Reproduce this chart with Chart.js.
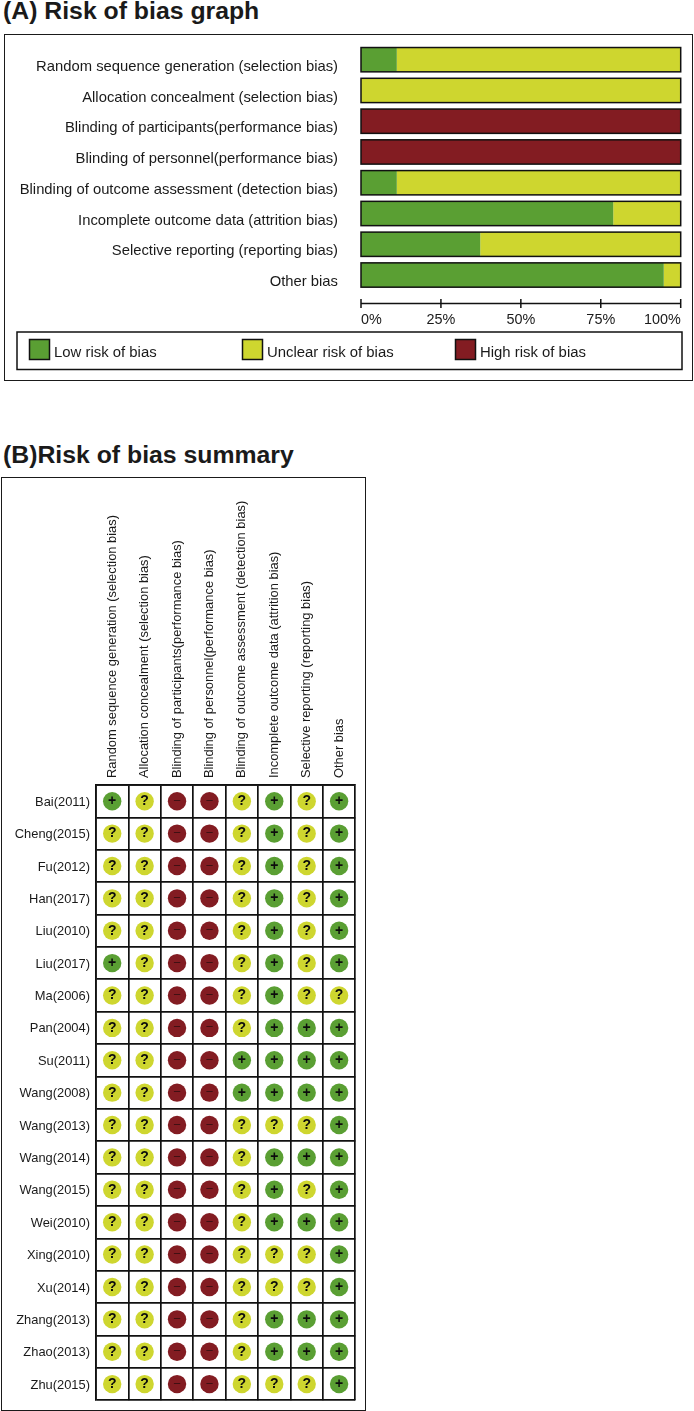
<!DOCTYPE html>
<html lang="en">
<head>
  <meta charset="UTF-8">
  <title>Risk of bias</title>
  <script src="https://cdn.jsdelivr.net/npm/chart.js"></script>
  <style>
    body { margin: 0; background: white; width: 694px; height: 1411px; position: relative; overflow: hidden; font-family: "Liberation Sans", Arial, sans-serif; }
    canvas { position: absolute; left: 0; }
    .title { position: absolute; left: 3px; font-weight: bold; font-size: 24.8px; line-height: 28px; color: #1a1a1a; white-space: nowrap; }
    .frame { position: absolute; border: 1.5px solid #1a1a1a; box-sizing: border-box; }
  </style>
</head>
<body>
<div class="title" style="top:-3px">(A) Risk of bias graph</div>
<div class="frame" style="left:4px;top:34px;width:689px;height:347px"></div>
<canvas id="graph" width="694" height="395" style="top:0"></canvas>

<div class="title" style="top:441px">(B)Risk of bias summary</div>
<div class="frame" style="left:1px;top:477px;width:365px;height:934px"></div>
<canvas id="summary" width="370" height="934" style="top:477px"></canvas>

<script>
const domains = [
  'Random sequence generation (selection bias)',
  'Allocation concealment (selection bias)',
  'Blinding of participants(performance bias)',
  'Blinding of personnel(performance bias)',
  'Blinding of outcome assessment (detection bias)',
  'Incomplete outcome data (attrition bias)',
  'Selective reporting (reporting bias)',
  'Other bias'
];
const lowRisk     = [11.2, 0, 0, 0, 11.2, 78.9, 37.3, 94.7];
const unclearRisk = [88.8, 100, 0, 0, 88.8, 21.1, 62.7, 5.3];
const highRisk    = [0, 0, 100, 100, 0, 0, 0, 0];

const percentTicks = [0, 25, 50, 75, 100];
const riskNames = ['Low risk of bias', 'Unclear risk of bias', 'High risk of bias'];

const studies = [
  'Bai(2011)', 'Cheng(2015)', 'Fu(2012)', 'Han(2017)', 'Liu(2010)', 'Liu(2017)', 'Ma(2006)',
  'Pan(2004)', 'Su(2011)', 'Wang(2008)', 'Wang(2013)', 'Wang(2014)', 'Wang(2015)', 'Wei(2010)',
  'Xing(2010)', 'Xu(2014)', 'Zhang(2013)', 'Zhao(2013)', 'Zhu(2015)'
];
// one string per study, one character per domain
const judgements = [
  '+?--?+?+', '??--?+?+', '??--?+?+', '??--?+?+', '??--?+?+', '+?--?+?+', '??--?+??',
  '??--?+++', '??--++++', '??--++++', '??--???+', '??--?+++', '??--?+?+', '??--?+++',
  '??--???+', '??--???+', '??--?+++', '??--?+++', '??--???+'
];

const GREEN = '#5a9f33';
const YELLOW = '#ced62f';
const RED = '#831c22';
const INK = '#1a1a1a';
const FONT = '"Liberation Sans", Arial, sans-serif';

Chart.defaults.font.family = FONT;
Chart.defaults.color = INK;

// black outline round each stacked bar, detached axis line, boxed legend
const graphExtras = {
  id: 'graphExtras',
  afterDatasetsDraw(chart) {
    const ctx = chart.ctx, x = chart.scales.x, area = chart.chartArea;
    const x0 = x.getPixelForValue(0), x1 = x.getPixelForValue(100);
    ctx.save();
    ctx.strokeStyle = '#111';
    ctx.lineWidth = 1.5;
    chart.getDatasetMeta(0).data.forEach(bar => {
      ctx.strokeRect(x0, bar.y - bar.height / 2, x1 - x0, bar.height);
    });

    const axisY = area.bottom + 13;
    ctx.beginPath();
    ctx.moveTo(x0, axisY);
    ctx.lineTo(x1, axisY);
    percentTicks.forEach(t => {
      const px = x.getPixelForValue(t);
      ctx.moveTo(px, axisY - 4.5);
      ctx.lineTo(px, axisY + 4.5);
    });
    ctx.stroke();

    ctx.strokeRect(17, 332, 665, 37.5);
    ctx.font = '14.9px ' + FONT;
    ctx.textBaseline = 'middle';
    chart.data.datasets.forEach((ds, i) => {
      const left = 29.5 + i * 213;
      ctx.fillStyle = ds.backgroundColor;
      ctx.fillRect(left, 339.5, 20, 20);
      ctx.strokeRect(left, 339.5, 20, 20);
      ctx.fillStyle = INK;
      ctx.fillText(ds.label, left + 24.5, 353);
    });
    ctx.restore();
  }
};

new Chart(document.getElementById('graph'), {
  type: 'bar',
  data: {
    labels: domains,
    datasets: [
      { label: riskNames[0], data: lowRisk, backgroundColor: GREEN },
      { label: riskNames[1], data: unclearRisk, backgroundColor: YELLOW },
      { label: riskNames[2], data: highRisk, backgroundColor: RED }
    ]
  },
  options: {
    indexAxis: 'y',
    responsive: false,
    animation: false,
    datasets: { bar: { categoryPercentage: 1, barPercentage: 0.79, borderWidth: 0 } },
    layout: { padding: { top: 44.3, right: 13.3, left: 0, bottom: 0 } },
    plugins: { legend: { display: false }, tooltip: { enabled: false } },
    scales: {
      x: {
        stacked: true, min: 0, max: 100,
        afterFit: s => { s.height = 104.6; s.paddingLeft = 0; s.paddingRight = 0; },
        afterBuildTicks: s => { s.ticks = percentTicks.map(v => ({ value: v })); },
        grid: { display: false, drawTicks: false },
        border: { display: false },
        ticks: { padding: 21, align: 'inner', maxRotation: 0, autoSkip: false, font: { size: 14.4 }, callback: v => v + '%' }
      },
      y: {
        stacked: true,
        afterFit: s => { s.width = 361; s.paddingTop = 0; s.paddingBottom = 0; },
        grid: { display: false, drawTicks: false },
        border: { display: false },
        ticks: { padding: 23, labelOffset: 7, autoSkip: false, font: { size: 14.8 } }
      }
    }
  },
  plugins: [graphExtras]
});

// summary matrix: one scatter dataset per judgement
const styles = {
  '+': { fill: GREEN, mark: '+', font: 'bold 14px ', color: '#0c0c0c' },
  '?': { fill: YELLOW, mark: '?', font: 'bold 14px ', color: '#0c0c0c' },
  '-': { fill: RED, mark: '\u2212', font: '13px ', color: '#3a1012' }
};
function pointsFor(key) {
  const out = [];
  studies.forEach((s, r) => {
    domains.forEach((d, c) => {
      if (judgements[r][c] === key) out.push({ x: d, y: s });
    });
  });
  return out;
}

const marks = {
  id: 'marks',
  afterDatasetsDraw(chart) {
    const ctx = chart.ctx;
    ctx.save();
    ctx.textAlign = 'center';
    ctx.textBaseline = 'middle';
    chart.data.datasets.forEach((ds, i) => {
      const st = styles[ds.label];
      ctx.font = st.font + FONT;
      ctx.fillStyle = st.color;
      chart.getDatasetMeta(i).data.forEach(pt => ctx.fillText(st.mark, pt.x, pt.y));
    });
    ctx.restore();
  }
};

new Chart(document.getElementById('summary'), {
  type: 'scatter',
  data: {
    datasets: Object.keys(styles).map(key => ({
      label: key,
      data: pointsFor(key),
      backgroundColor: styles[key].fill,
      borderWidth: 0,
      pointRadius: 9.2
    }))
  },
  options: {
    responsive: false,
    animation: false,
    layout: { padding: { right: 14.7, bottom: 10.7, left: 0, top: 0 } },
    plugins: { legend: { display: false }, tooltip: { enabled: false } },
    scales: {
      x: {
        type: 'category', position: 'top', labels: domains, offset: true,
        afterFit: s => { s.height = 308; s.paddingLeft = 0; s.paddingRight = 0; },
        grid: { offset: true, color: '#111', lineWidth: 1.7, drawTicks: false },
        border: { color: '#111', width: 1.7 },
        ticks: { padding: 7, labelOffset: 15.5, minRotation: 90, maxRotation: 90, autoSkip: false, font: { size: 12.9 } }
      },
      y: {
        type: 'category', labels: studies, offset: true,
        afterFit: s => { s.width = 96; s.paddingTop = 0; s.paddingBottom = 0; },
        grid: { offset: true, color: '#111', lineWidth: 1.7, drawTicks: false },
        border: { color: '#111', width: 1.7 },
        ticks: { padding: 6, labelOffset: 1, autoSkip: false, font: { size: 12.9 } }
      }
    }
  },
  plugins: [marks]
});
</script>
</body>
</html>
